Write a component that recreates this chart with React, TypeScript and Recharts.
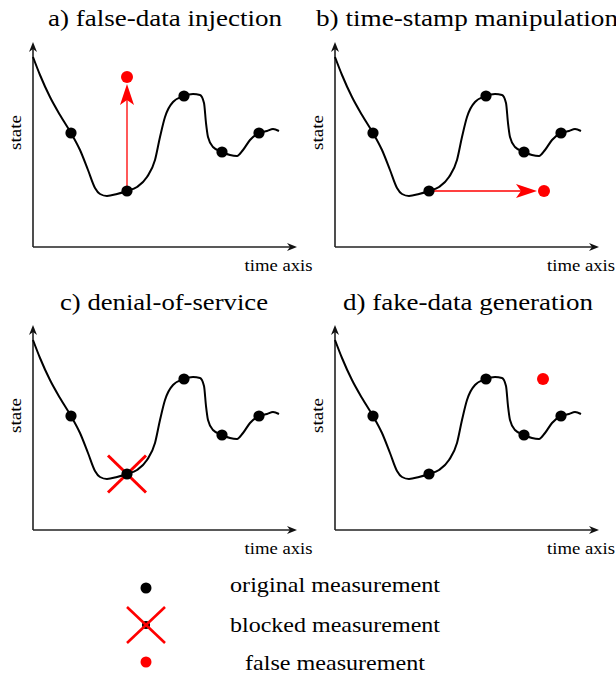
import React from 'react';
import { ComposedChart, Line, Scatter, XAxis, YAxis, ReferenceLine, ReferenceDot } from 'recharts';

// underlying smooth state trajectory (time, state)
const curveT = [0, 7, 17, 27, 38, 47, 55, 62, 67, 74, 84, 94, 104, 114, 122, 127, 132, 140, 151, 160, 167, 171, 173, 175, 180, 189, 197, 204, 210, 217, 226, 234, 240, 246];
const curveS = [190, 172, 150, 132, 114, 97, 77, 59, 53, 51, 53, 56, 60, 70, 87, 110, 130, 145, 151, 153, 152, 144, 124, 110, 100, 95, 92, 91, 97, 107, 114, 116, 118, 116];

// original measurements
const measT = [38, 94, 151, 189, 226];
const measS = [114, 56, 151, 95, 114];

// axis extents
const axisMaxT = 264;
const axisMaxS = 205;

// per-panel attack
const titles = ['a) false-data injection', 'b) time-stamp manipulation', 'c) denial-of-service', 'd) fake-data generation'];
const attackedIndex = [1, 1, 1, -1];
const falseT = [94, 209, null, 208];
const falseS = [170, 56, null, 151];
const arrowPanels = [true, true, false, false];

const xLabel = 'time axis';
const yLabel = 'state';
const legendLabels = ['original measurement', 'blocked measurement', 'false measurement'];

const RED = '#ff0000';
const FONT = "'Liberation Serif', 'Times New Roman', Times, serif";

const stealth = (tx: number, ty: number, ux: number, uy: number, len: number, hw: number, notch: number) => {
  const px = -uy, py = ux;
  const bx = tx - ux * len, by = ty - uy * len;
  const nx = tx - ux * notch, ny = ty - uy * notch;
  return `${tx},${ty} ${bx + px * hw},${by + py * hw} ${nx},${ny} ${bx - px * hw},${by - py * hw}`;
};

const ArrowShape = (props: any) => {
  const { x1, y1, x2, y2 } = props;
  const dx = x2 - x1, dy = y2 - y1;
  const L = Math.sqrt(dx * dx + dy * dy) || 1;
  const ux = dx / L, uy = dy / L;
  const tx = x2 - ux * 7, ty = y2 - uy * 7;
  const ex = tx - ux * 12, ey = ty - uy * 12;
  return (
    <g>
      <line x1={x1} y1={y1} x2={ex} y2={ey} stroke={RED} strokeWidth={1.3} />
      <polygon points={stealth(tx, ty, ux, uy, 21, 7, 16)} fill={RED} />
    </g>
  );
};

const AxisShape = (props: any) => {
  const { x1, y1, x2, y2 } = props;
  const dx = x2 - x1, dy = y2 - y1;
  const L = Math.sqrt(dx * dx + dy * dy) || 1;
  const ux = dx / L, uy = dy / L;
  return (
    <g>
      <line x1={x1} y1={y1} x2={x2 - ux * 6} y2={y2 - uy * 6} stroke="#222" strokeWidth={1.6} />
      <polygon points={stealth(x2, y2, ux, uy, 10, 4, 7)} fill="#111" />
    </g>
  );
};

const CrossShape = (props: any) => {
  const { cx, cy } = props;
  return (
    <g>
      <line x1={cx - 19} y1={cy - 18.5} x2={cx + 19} y2={cy + 18.5} stroke={RED} strokeWidth={3} />
      <line x1={cx + 19} y1={cy - 18.5} x2={cx - 19} y2={cy + 18.5} stroke={RED} strokeWidth={3} />
    </g>
  );
};

const blackDot = (p: any) => <circle cx={p.cx} cy={p.cy} r={5.6} fill="#000" />;
const redDot = (p: any) => <circle cx={p.cx} cy={p.cy} r={6} fill={RED} />;

function Panel({ idx, left, top }: { idx: number; left: number; top: number }) {
  const curve = curveT.map((t, i) => ({ t, s: curveS[i] }));
  const meas = measT.map((t, i) => ({ t, s: measS[i] }));
  const ai = attackedIndex[idx];
  const fT = falseT[idx];
  const fS = falseS[idx];
  const hasFalse = fT !== null && fS !== null;
  return (
    <div style={{ position: 'absolute', left, top }}>
      <ComposedChart width={302} height={283} margin={{ top: 42, right: 5, bottom: 36, left: 33 }}>
        <XAxis type="number" dataKey="t" domain={[0, axisMaxT]} hide />
        <YAxis type="number" dataKey="s" domain={[0, axisMaxS]} hide />
        <ReferenceLine segment={[{ x: 0, y: 0 }, { x: axisMaxT, y: 0 }]} shape={AxisShape} ifOverflow="visible" />
        <ReferenceLine segment={[{ x: 0, y: 0 }, { x: 0, y: axisMaxS }]} shape={AxisShape} ifOverflow="visible" />
        {idx === 2 && ai >= 0 ? (
          <ReferenceDot x={measT[ai]} y={measS[ai]} shape={CrossShape} ifOverflow="visible" />
        ) : null}
        <Line data={curve} dataKey="s" type="monotone" dot={false} stroke="#000" strokeWidth={2} isAnimationActive={false} />
        <Scatter data={meas} dataKey="s" shape={blackDot} isAnimationActive={false} />
        {arrowPanels[idx] && hasFalse && ai >= 0 ? (
          <ReferenceLine
            segment={[{ x: measT[ai], y: measS[ai] }, { x: fT as number, y: fS as number }]}
            shape={ArrowShape}
            ifOverflow="visible"
          />
        ) : null}
        {hasFalse ? (
          <Scatter data={[{ t: fT, s: fS }]} dataKey="s" shape={redDot} isAnimationActive={false} />
        ) : null}
      </ComposedChart>
    </div>
  );
}

const titlePos = [
  { x: 48, y: 26, w: 234 },
  { x: 316, y: 26, w: 302 },
  { x: 60, y: 309.5, w: 208 },
  { x: 343, y: 309.5, w: 250 },
];
const panelPos = [
  { left: 0, top: 0 },
  { left: 302, top: 0 },
  { left: 0, top: 283 },
  { left: 302, top: 283 },
];

const txt = (size: number): React.CSSProperties => ({ fontFamily: FONT, fontSize: size });

export default function App() {
  return (
    <div style={{ position: 'absolute', left: 0, top: 0, width: 616, height: 679, background: '#fff', overflow: 'hidden' }}>
      {panelPos.map((p, i) => (
        <Panel key={i} idx={i} left={p.left} top={p.top} />
      ))}
      <svg width={616} height={679} style={{ position: 'absolute', left: 0, top: 0, pointerEvents: 'none' }}>
        {titles.map((t, i) => (
          <text key={t} x={titlePos[i].x} y={titlePos[i].y} style={txt(23.5)} fill="#000" textLength={titlePos[i].w} lengthAdjust="spacingAndGlyphs">
            {t}
          </text>
        ))}
        {panelPos.map((p, i) => (
          <g key={'lab' + i}>
            <text
              transform={`translate(${p.left + 20.5},${p.top + 132.5}) rotate(-90)`}
              textAnchor="middle"
              style={txt(16)}
              fill="#000"
              textLength={35}
              lengthAdjust="spacingAndGlyphs"
            >
              {yLabel}
            </text>
            <text x={p.left + (i % 2 === 0 ? 244.5 : 245)} y={p.top + 271} style={txt(16.5)} fill="#000" textLength={68} lengthAdjust="spacingAndGlyphs">
              {xLabel}
            </text>
          </g>
        ))}
        {/* legend */}
        <circle cx={146} cy={588} r={5.5} fill="#000" />
        <circle cx={146} cy={625} r={4} fill="#000" />
        <line x1={127} y1={607} x2={165} y2={643} stroke={RED} strokeWidth={2.6} />
        <line x1={165} y1={607} x2={127} y2={643} stroke={RED} strokeWidth={2.6} />
        <circle cx={146} cy={662} r={5.5} fill={RED} />
        <text x={230} y={592} style={txt(21)} fill="#000" textLength={210} lengthAdjust="spacingAndGlyphs">{legendLabels[0]}</text>
        <text x={230} y={632} style={txt(21)} fill="#000" textLength={210} lengthAdjust="spacingAndGlyphs">{legendLabels[1]}</text>
        <text x={245} y={670} style={txt(21)} fill="#000" textLength={180} lengthAdjust="spacingAndGlyphs">{legendLabels[2]}</text>
      </svg>
    </div>
  );
}
